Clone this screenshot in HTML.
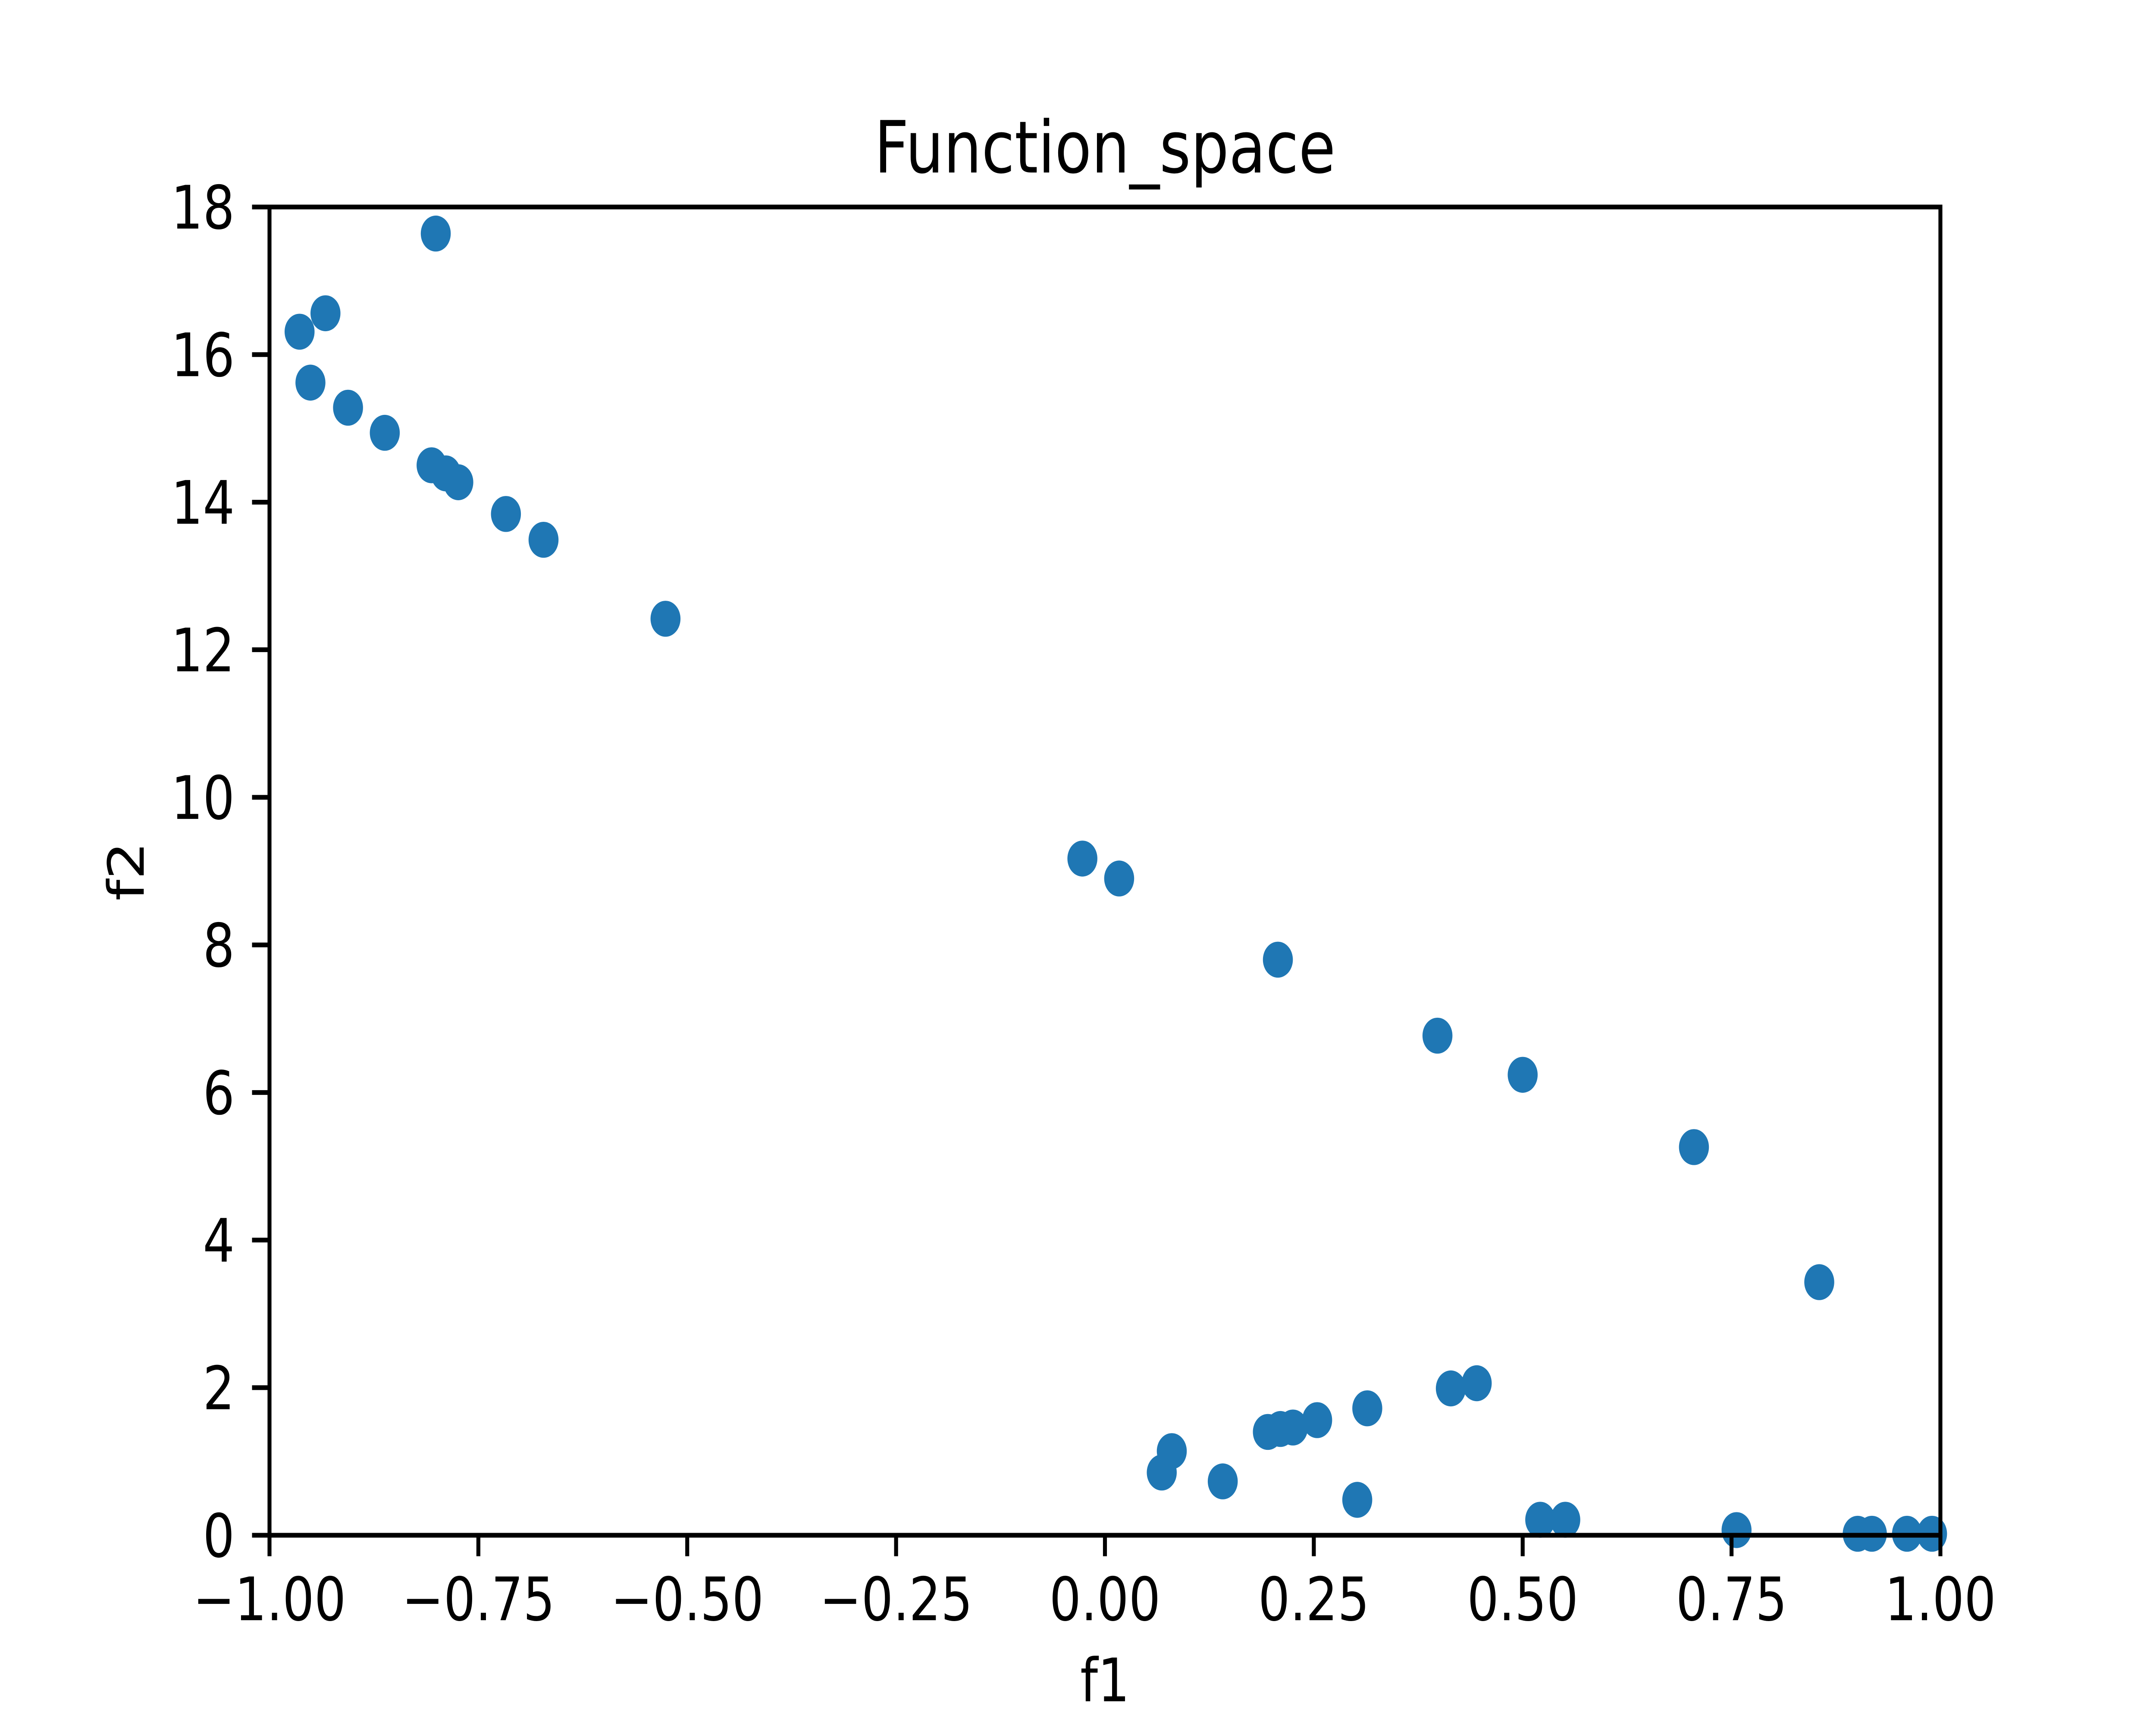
<!DOCTYPE html>
<html><head><meta charset="utf-8"><style>html,body{margin:0;padding:0;background:#fff;overflow:hidden;width:100%;height:100%}svg{display:block;width:100vw;height:100vh}</style></head>
<body>
<svg id="chart" viewBox="0 0 6000 4000" preserveAspectRatio="none" xmlns="http://www.w3.org/2000/svg" font-family="'DejaVu Sans','Liberation Sans',sans-serif">
<rect width="6000" height="4000" fill="#fff"/>
<g id="pts"></g>
<g id="axes"></g>
</svg>
<script>
const f1Values=[-0.801,-0.964,-0.933,-0.951,-0.906,-0.862,-0.806,-0.789,-0.774,-0.717,-0.672,-0.526,-0.027,0.017,0.207,0.398,0.500,0.705,0.855,0.068,0.080,0.141,0.195,0.210,0.225,0.254,0.314,0.302,0.414,0.445,0.521,0.551,0.756,0.901,0.918,0.960,0.990];
const f2Values=[17.64,16.31,16.56,15.62,15.28,14.94,14.50,14.39,14.27,13.84,13.49,12.42,9.17,8.90,7.80,6.77,6.24,5.26,3.43,0.85,1.14,0.73,1.40,1.44,1.46,1.56,1.72,0.48,1.99,2.06,0.21,0.21,0.07,0.02,0.02,0.02,0.02];
const xTicks=[-1,-0.75,-0.5,-0.25,0,0.25,0.5,0.75,1];
const xTickLabels=["\u22121.00","\u22120.75","\u22120.50","\u22120.25","0.00","0.25","0.50","0.75","1.00"];
const yTicks=[0,2,4,6,8,10,12,14,16,18];
const yTickLabels=["0","2","4","6","8","10","12","14","16","18"];
const L=750,R=5400,T=480,B=3560;
const xs=v=>L+(v+1)/2*(R-L);
const ys=v=>B-v/18*(B-T);
const NS="http://www.w3.org/2000/svg";
function mk(tag,attrs,parent,text){const e=document.createElementNS(NS,tag);for(const k in attrs)e.setAttribute(k,attrs[k]);if(text!==undefined)e.textContent=text;parent.appendChild(e);return e;}
const pts=document.getElementById('pts'),ax=document.getElementById('axes');
f1Values.forEach((v,i)=>{const c=mk('circle',{cx:xs(v),cy:ys(f2Values[i]),r:41.7,fill:'#1f77b4'},pts);

});
const fr=mk('rect',{x:L,y:T,width:R-L,height:B-T,fill:'none',stroke:'#000','stroke-width':11},ax);


xTicks.forEach((v,i)=>{const x=xs(v);
mk('line',{x1:x,x2:x,y1:B,y2:B+48.6,stroke:'#000','stroke-width':11},ax);
const t=mk('text',{x:x,y:3757,'font-size':139,'text-anchor':'middle'},ax,xTickLabels[i]);

});
yTicks.forEach((v,i)=>{const y=ys(v);
mk('line',{x1:L-48.6,x2:L,y1:y,y2:y,stroke:'#000','stroke-width':11},ax);
const t=mk('text',{x:653,y:y+50,'font-size':139,'text-anchor':'end'},ax,yTickLabels[i]);

});
const xl=mk('text',{x:(L+R)/2,y:3945,'font-size':139,'text-anchor':'middle'},ax,'f1');


const yl=mk('text',{x:0,y:0,'font-size':139,'text-anchor':'middle',transform:'translate(400,'+((T+B)/2)+') rotate(-90)'},ax,'f2');


const ti=mk('text',{x:(L+R)/2,y:400,'font-size':167,'text-anchor':'middle'},ax,'Function_space');


</script>
</body></html>
